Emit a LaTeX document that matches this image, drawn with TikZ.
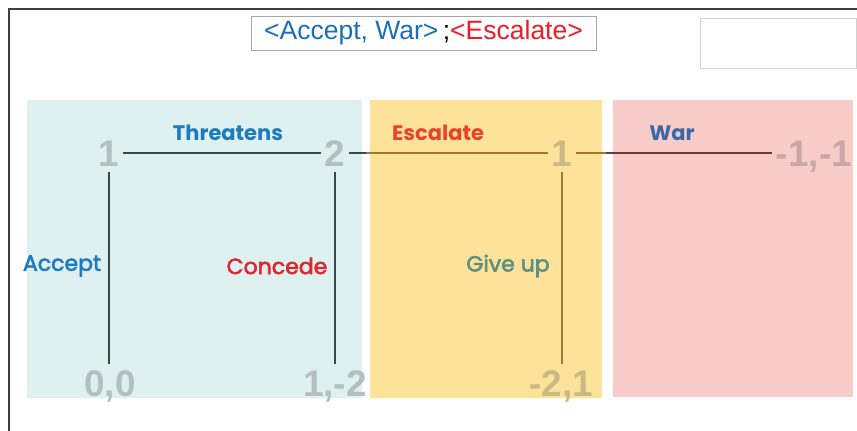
\documentclass[tikz,border=0pt]{standalone}
\usepackage{fontspec}
\setmainfont{Liberation Sans}
\newfontfamily\labfont[FakeBold=2.5]{Poppins}
\newfontfamily\labbfont{Poppins}
\newfontfamily\numfont{Liberation Sans}
\definecolor{frame}{HTML}{3F3F3F}
\definecolor{tealbg}{HTML}{DEF0EF}
\definecolor{yellowbg}{HTML}{FDE39A}
\definecolor{pinkbg}{HTML}{F8CCC9}
\definecolor{tealline}{HTML}{37494A}
\definecolor{ochreline}{HTML}{9C7A30}
\definecolor{brownline}{HTML}{6A3A32}
\definecolor{tealnum}{HTML}{B2C0C0}
\definecolor{yellownum}{HTML}{CBB985}
\definecolor{pinknum}{HTML}{C8A8A7}
\definecolor{labblue}{HTML}{1E7BBE}
\definecolor{labred}{HTML}{E0262E}
\definecolor{laborange}{HTML}{E8432C}
\definecolor{labwar}{HTML}{3B69A8}
\definecolor{labgreen}{HTML}{5F9080}
\definecolor{titblue}{HTML}{1A6FB8}
\definecolor{titred}{HTML}{EE1C25}
\begin{document}
\begin{tikzpicture}[x=1pt,y=-1pt,
  num/.style={font=\numfont\bfseries\fontsize{37}{37}\selectfont, inner sep=0pt, outer sep=0pt, text height=26pt, text depth=0pt, minimum height=38pt, minimum width=28pt},
  lab/.style={font=\labfont\fontsize{22}{22}\selectfont, inner sep=0pt},
  labb/.style={font=\labbfont\bfseries\fontsize{21}{21}\selectfont, inner sep=0pt},
  edge/.style={line width=2.8pt},
  panel/.style={draw=none}]
\useasboundingbox (0,0) rectangle (857,431);
\fill[white] (0,0) rectangle (857,431);
% frame
\draw[frame, line width=2pt] (9,431) -- (9,9) -- (857,9);
% title boxes
\node[draw=black!35, line width=0.8pt, fill=white, minimum width=345pt, minimum height=34pt, inner sep=0pt] (title) at (423.5,33)
  {\fontsize{26.5}{26.5}\selectfont\textcolor{titblue}{<Accept, War>}\,;\textcolor{titred}{<Escalate>}};
\node[draw=black!18, line width=0.8pt, fill=white, minimum width=156pt, minimum height=50pt, inner sep=0pt] (blank) at (778,43) {};
% panels
\fill[tealbg] (27,100) rectangle (362,398);
\fill[yellowbg] (370,100) rectangle (602,398);
\fill[pinkbg] (613,100) rectangle (853,397);
% numbers
\node[num, text=tealnum] (n1) at (109,153) {1};
\node[num, text=tealnum] (n2) at (335,153) {2};
\node[num, text=yellownum] (n3) at (562,153) {1};
\node[num, text=pinknum, inner xsep=4pt] (p4) at (814,153) {-1,-1};
\node[num, text=tealnum] (p1) at (110,383) {0,0};
\node[num, text=tealnum] (p2) at (335,383) {1,-2};
\node[num, text=yellownum] (p3) at (561,383) {-2,1};
% connectors
\draw[edge, tealline] (n1) -- (n2);
\draw[edge, tealline] (n1.south -| 109,0) -- (p1.north -| 109,0);
\draw[edge, tealline] (n2) -- (p2.north -| n2);
\draw[edge, tealline] (n2) -- (n3);
\draw[edge, brownline] (n3) -- (p4);
\begin{scope}
  \clip (366,90) rectangle (606,410);
  \draw[edge, ochreline] (n2) -- (n3);
  \draw[edge, ochreline] (n3) -- (n3 |- p3.north);
  \draw[edge, ochreline] (n3) -- (p4);
\end{scope}
% labels
\node[labb, text=labblue] (lthr) at (228,133) {Threatens};
\node[labb, text=laborange] (lesc) at (438,133) {Escalate};
\node[labb, text=labwar] (lwar) at (672,133) {War};
\node[lab, text=labblue] (lacc) at (62,266) {Accept};
\node[lab, text=labred] (lcon) at (277,266) {Concede};
\node[lab, text=labgreen] (lgiv) at (508,266) {Give up};
\end{tikzpicture}
\end{document}
